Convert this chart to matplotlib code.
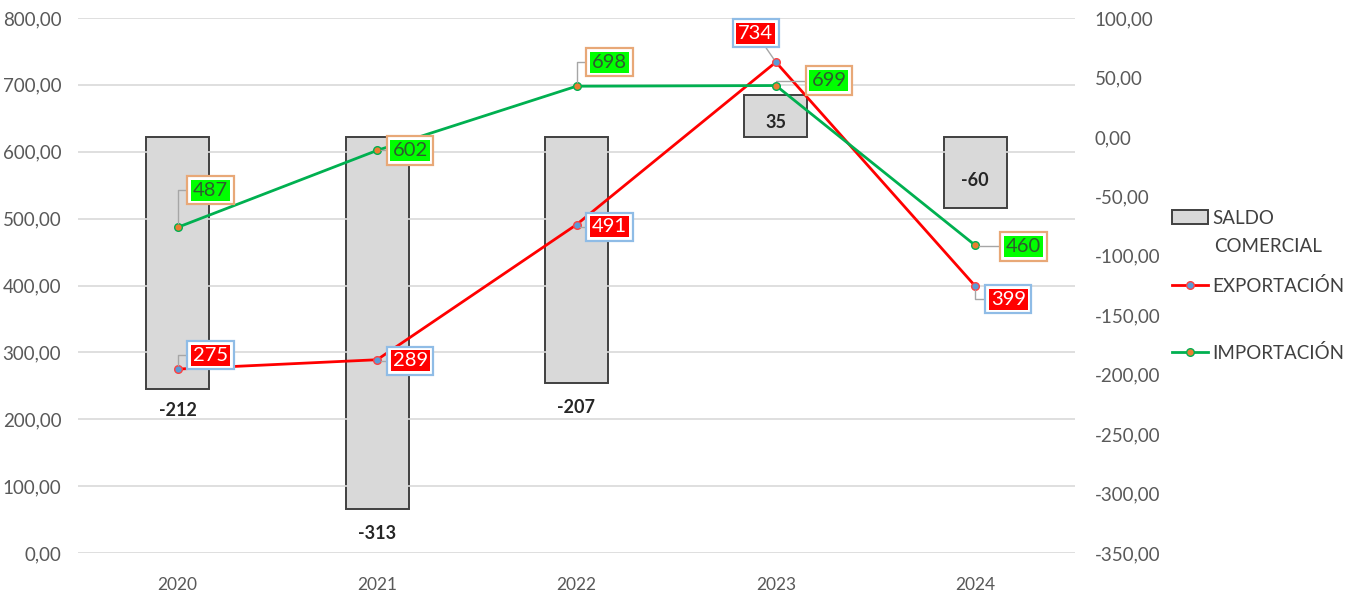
import matplotlib
matplotlib.use("Agg")
import matplotlib.pyplot as plt
from matplotlib import ticker
from matplotlib.patches import Patch
from matplotlib.lines import Line2D
import numpy as np

plt.rcParams['font.family'] = ['Lato', 'DejaVu Sans']

years = ['2020', '2021', '2022', '2023', '2024']
saldo = [-212, -313, -207, 35, -60]
exportacion = [275, 289, 491, 734, 399]
importacion = [487, 602, 698, 699, 460]

# label offsets in pixels (dx, dy) from the point / bar end
exp_off = [(33, 14), (33, -1), (33, -2), (-20, 29), (33, -13)]
imp_off = [(33, 37), (33, 0), (33, 24), (53, 5), (48, -1)]
saldo_off = [-22, -24, -25, -27, 28]

GRIS = '#595959'

def fmt(v, pos=None):
    return ('%.2f' % v).replace('.', ',')

fig = plt.figure(figsize=(13.68, 5.92), dpi=100)
ax = fig.add_axes([78 / 1368, 39 / 592, 997 / 1368, 535 / 592])
ax2 = ax.twinx()
ax.yaxis.tick_right()
ax2.yaxis.tick_left()

x = np.arange(len(years))

# saldo comercial - barras, eje derecho
ax.bar(x, saldo, width=0.316, color='#d9d9d9', edgecolor='#404040', linewidth=1.4, zorder=2)
ax.set_ylim(-350, 100)
ax.set_yticks(np.arange(-350, 101, 50))
ax.yaxis.set_major_formatter(ticker.FuncFormatter(fmt))

for i, v in enumerate(saldo):
    ax.annotate(str(v), xy=(x[i], v), xytext=(0, saldo_off[i]), textcoords='offset pixels',
                ha='center', va='center', fontsize=13, fontweight='bold', color='#262626')

# lineas, eje izquierdo
ax2.plot(x, exportacion, color='#ff0000', linewidth=2, marker='o', markersize=5.5,
         markerfacecolor='#5b9bd5', markeredgecolor='#ff4040', markeredgewidth=1, zorder=3)
ax2.plot(x, importacion, color='#00b050', linewidth=2, marker='o', markersize=5.5,
         markerfacecolor='#ed7d31', markeredgecolor='#00b050', markeredgewidth=1, zorder=3)
ax2.set_ylim(0, 800)
ax2.set_yticks(np.arange(0, 801, 100))
ax2.yaxis.set_major_formatter(ticker.FuncFormatter(fmt))
ax2.grid(axis='y', color='#d9d9d9', linewidth=1.2)
ax2.set_axisbelow(True)

def etiqueta(xi, yi, txt, off, fill, borde, tcolor, conn):
    ax2.annotate(txt, xy=(xi, yi), xytext=off, textcoords='offset pixels',
                 ha='center', va='center', fontsize=14.5, color='white',
                 bbox=dict(boxstyle='square,pad=0.28', fc='white', ec=borde, lw=1.6),
                 arrowprops=dict(arrowstyle='-', color='#a6a6a6', lw=1,
                                 connectionstyle=conn, shrinkA=0, shrinkB=3))
    ax2.annotate(txt, xy=(xi, yi), xytext=off, textcoords='offset pixels',
                 ha='center', va='center', fontsize=14.5, color=tcolor,
                 bbox=dict(boxstyle='square,pad=0.1', fc=fill, ec='none'))

for i in range(len(years)):
    c = 'arc3' if i == 3 else 'angle,angleA=0,angleB=90,rad=0'
    etiqueta(x[i], exportacion[i], str(exportacion[i]), exp_off[i], '#ff0000', '#8fbce6', 'white', c)
    etiqueta(x[i], importacion[i], str(importacion[i]), imp_off[i], '#00ff00', '#e8a877', '#2f5a2f',
             'angle,angleA=0,angleB=90,rad=0')

ax.set_xlim(-0.5, len(years) - 0.5)
ax.set_xticks(x)
ax.set_xticklabels(years)

for a in (ax, ax2):
    for s in a.spines.values():
        s.set_visible(False)
    a.tick_params(length=0, labelsize=13.5, colors=GRIS)
ax.tick_params(axis='x', pad=17, labelsize=12.5)
ax.tick_params(axis='y', pad=14)
ax2.tick_params(axis='y', pad=12)

# leyenda
h_saldo = Patch(facecolor='#d9d9d9', edgecolor='#404040', linewidth=1.4)
h_exp = Line2D([], [], color='#ff0000', lw=2, marker='o', markersize=5.5,
               markerfacecolor='#5b9bd5', markeredgecolor='#ff4040')
h_imp = Line2D([], [], color='#00b050', lw=2, marker='o', markersize=5.5,
               markerfacecolor='#ed7d31', markeredgecolor='#00b050')
entradas = [(h_saldo, 'SALDO', 218), (h_exp, 'EXPORTACIÓN', 286), (h_imp, 'IMPORTACIÓN', 353)]
for h, lab, ypix in entradas:
    leg = fig.legend([h], [lab], loc='center left', bbox_to_anchor=(1172 / 1368, 1 - ypix / 592),
                     frameon=False, fontsize=13.5, handlelength=1.9, handletextpad=0.25,
                     borderpad=0, borderaxespad=0)
    for t in leg.get_texts():
        t.set_color('#404040')
fig.text(1214 / 1368, 1 - 246 / 592, 'COMERCIAL', ha='left', va='center', fontsize=13.5, color='#404040')

fig.savefig('out.png', dpi=100)
